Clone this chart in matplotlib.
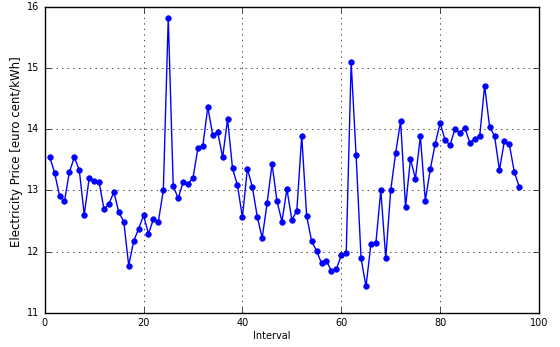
import numpy as np
import matplotlib
matplotlib.use("Agg")
import matplotlib.pyplot as plt

# precio por intervalo (96 intervalos de 15 min)
intervals = np.arange(1, 97)
price = [13.55, 13.29, 12.91, 12.82, 13.30, 13.54, 13.33, 12.60, 13.20, 13.16,
         13.14, 12.69, 12.78, 12.97, 12.64, 12.49, 11.77, 12.17, 12.37, 12.59,
         12.29, 12.53, 12.49, 13.00, 15.82, 13.07, 12.87, 13.13, 13.11, 13.20,
         13.69, 13.73, 14.36, 13.90, 13.95, 13.54, 14.16, 13.36, 13.08, 12.56,
         13.35, 13.06, 12.57, 12.22, 12.79, 13.43, 12.82, 12.49, 13.02, 12.52,
         12.66, 13.89, 12.58, 12.17, 12.01, 11.81, 11.85, 11.68, 11.71, 11.94,
         11.98, 15.09, 13.57, 11.89, 11.43, 12.12, 12.14, 13.00, 11.89, 13.00,
         13.61, 14.13, 12.73, 13.51, 13.19, 13.88, 12.83, 13.34, 13.76, 14.10,
         13.82, 13.74, 14.00, 13.94, 14.02, 13.78, 13.84, 13.88, 14.71, 14.04,
         13.89, 13.33, 13.81, 13.75, 13.30, 13.06]

plt.style.use('classic')
plt.rcParams['font.size'] = 7

fig = plt.figure(figsize=(5.6, 3.47), dpi=100, facecolor='white')
ax = fig.add_axes([0.0798, 0.0988, 0.8827, 0.8819])

ax.plot(intervals, price, 'b-', marker='o', markersize=4, linewidth=1,
        markeredgecolor='b')
ax.set_xlim(0, 100)
ax.set_ylim(11, 16)
ax.grid(True)
ax.set_xlabel('Interval', labelpad=2)
ax.set_ylabel('Electricity Price [euro cent/kWh]', fontsize=8.5, labelpad=3)
ax.xaxis.label.set_x(0.46)
ax.yaxis.label.set_y(0.525)

fig.savefig('out.png', dpi=100, facecolor='white')
